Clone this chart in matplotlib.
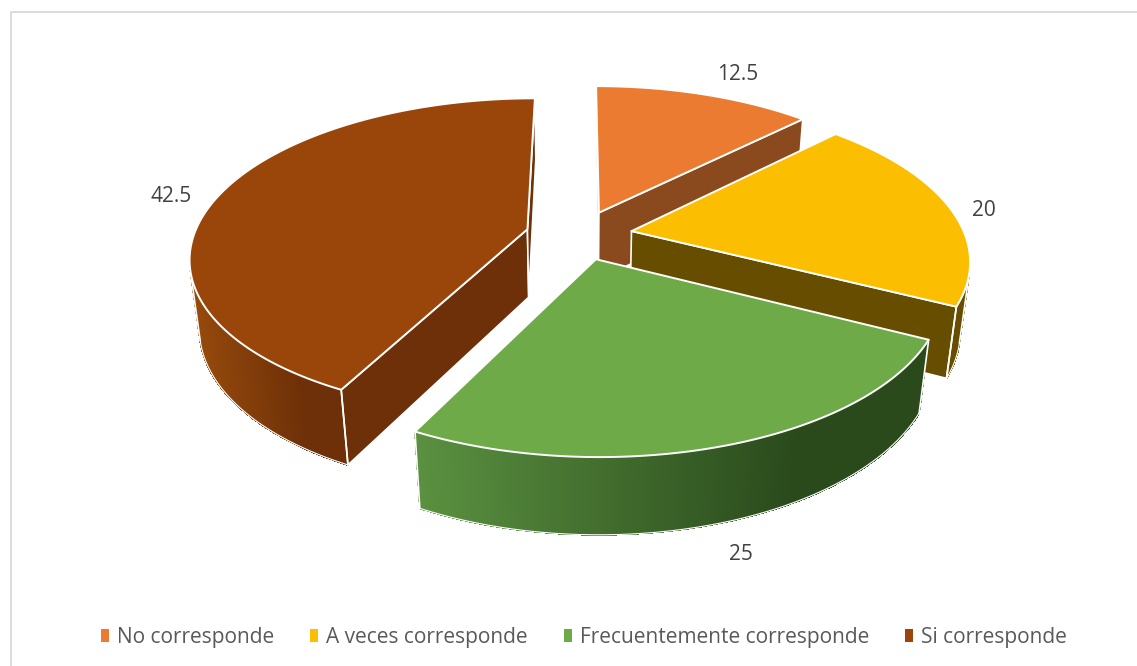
import matplotlib
matplotlib.use("Agg")
import matplotlib.pyplot as plt
import numpy as np
from matplotlib.collections import PolyCollection
from matplotlib.colors import to_rgb
from matplotlib.lines import Line2D
from matplotlib.patches import Patch, Polygon

categories = ["No corresponde", "A veces corresponde", "Frecuentemente corresponde", "Si corresponde"]
values = [12.5, 20, 25, 42.5]
value_labels = ["12.5", "20", "25", "42.5"]

top_colors = ["#EB7B30", "#FBBE00", "#6EAB48", "#9A460A"]
face_colors = ["#8A4A1E", "#664D00", "#2A4A1C", "#6E3008"]
wall_light = ["#A0521C", "#664D00", "#5A9040", "#964A0C"]
wall_dark = ["#8A4A1E", "#664D00", "#2A4A1C", "#6E3008"]
label_xy = [(738, 75), (984, 211), (741, 555), (171, 197)]

plt.rcParams["font.family"] = ["Open Sans", "DejaVu Sans"]

# projection of the pie plane, in pixels
CX, CY = 579.0, 235.0
A, B, K = 333.5, 155.0, 0.17
DEPTH_H, DEPTH_M = 70.0, 0.025
EXPLODE = 0.16


def project(u, v, z=0.0):
    w = 1 + K * v + DEPTH_M * z
    return np.column_stack([CX + A * u / w, CY + (-B * v + DEPTH_H * z) / w])


def area(pts):
    x, y = pts[:, 0], pts[:, 1]
    return 0.5 * np.sum(x * np.roll(y, -1) - np.roll(x, -1) * y)


fig = plt.figure(figsize=(11.37, 6.66), dpi=100)
ax = fig.add_axes([0, 0, 1, 1])
ax.set_xlim(0, 1137)
ax.set_ylim(666, 0)
ax.axis("off")

ax.add_line(Line2D([1137, 11, 11], [12, 12, 666], color="#D9D9D9", lw=1.3))

shares = np.array(values) / sum(values) * 2 * np.pi
ends = np.cumsum(shares)
starts = ends - shares

for i in range(len(values)):
    mid = (starts[i] + ends[i]) / 2
    ox, oy = EXPLODE * np.sin(mid), EXPLODE * np.cos(mid)
    t = np.linspace(starts[i], ends[i], 240)
    u, v = ox + np.sin(t), oy + np.cos(t)
    top = project(u, v)
    low = project(u, v, 1.0)
    apex_top = project(np.array([ox]), np.array([oy]))
    apex_low = project(np.array([ox]), np.array([oy]), 1.0)

    # outer wall, shaded along the screen x
    quads, cols = [], []
    for j in range(len(t) - 1):
        q = np.array([top[j], top[j + 1], low[j + 1], low[j]])
        if area(q) < 0:
            quads.append(q)
    if quads:
        xs = np.array([q[:, 0].mean() for q in quads])
        span = max(xs.max() - xs.min(), 1)
        for x in xs:
            f = min((x - xs.min()) / span * 1.35, 1.0)
            c0, c1 = np.array(to_rgb(wall_light[i])), np.array(to_rgb(wall_dark[i]))
            cols.append(c0 + (c1 - c0) * f)
        ax.add_collection(
            PolyCollection(quads, facecolors=cols, edgecolors=cols, linewidths=0.6, antialiaseds=False, zorder=i * 3 + 1)
        )
        outline = np.vstack([[q[3] for q in quads], quads[-1][2]])
        ax.add_line(Line2D(outline[:, 0], outline[:, 1], color="white", lw=0.8, zorder=i * 3 + 1.5))
        for edge in (quads[0][[0, 3]], quads[-1][[1, 2]]):
            ax.add_line(Line2D(edge[:, 0], edge[:, 1], color="white", lw=1.2, zorder=i * 3 + 1.6))

    # cut faces, only those turned towards the viewer
    for rim_t, rim_l, sign in ((top[0], low[0], -1), (top[-1], low[-1], 1)):
        face = np.array([apex_top[0], rim_t, rim_l, apex_low[0]])
        if area(face) * sign > 0:
            ax.add_patch(Polygon(face, closed=True, fc=face_colors[i], ec="white", lw=1.2, zorder=i * 3 + 1.2))

    poly = np.vstack([apex_top, top])
    ax.add_patch(Polygon(poly, closed=True, fc=top_colors[i], ec="white", lw=1.4, joinstyle="round", zorder=i * 3 + 2))

    ax.text(*label_xy[i], value_labels[i], ha="center", va="center", fontsize=15, color="#404040", zorder=20)

handles = [Patch(fc=c, ec="none") for c in top_colors]
ax.legend(
    handles,
    categories,
    loc="center",
    bbox_to_anchor=(584, 637.5),
    bbox_transform=ax.transData,
    ncol=4,
    frameon=False,
    fontsize=15,
    labelcolor="#595959",
    handlelength=0.39,
    handleheight=0.55,
    handletextpad=0.4,
    columnspacing=1.7,
)

fig.savefig("out.png", dpi=100)
